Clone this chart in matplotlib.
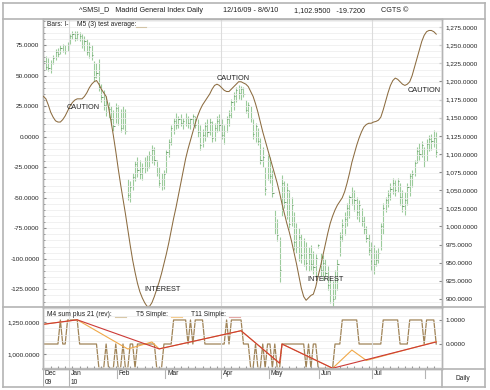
import numpy as np
import pandas as pd
import matplotlib
matplotlib.use("Agg")
import matplotlib.pyplot as plt
from matplotlib.lines import Line2D
from matplotlib.ticker import FuncFormatter, MultipleLocator, FixedLocator

plt.rcParams["font.family"] = ["Liberation Sans", "DejaVu Sans"]

# ---- data -------------------------------------------------------------
holidays = ["2009-12-25", "2010-01-01", "2010-04-02", "2010-04-05"]

bar_high = [
    1238, 1235, 1232, 1230, 1236, 1244, 1246, 1250, 1252, 1250,
    1254, 1266, 1270, 1269, 1270, 1268, 1266, 1262, 1258, 1254,
    1250, 1228, 1226, 1231, 1196, 1188, 1180, 1172, 1166, 1160,
    1170, 1168, 1162, 1166, 1162, 1066, 1062, 1074, 1090, 1096,
    1092, 1088, 1096, 1099, 1104, 1113, 1110, 1092, 1082, 1074,
    1078, 1106, 1120, 1140, 1150, 1156, 1152, 1155, 1150, 1157,
    1152, 1150, 1155, 1152, 1148, 1140, 1134, 1144, 1148, 1150,
    1146, 1142, 1152, 1155, 1148, 1140, 1152, 1160, 1176, 1185,
    1192, 1195, 1193, 1192, 1175, 1172, 1166, 1148, 1142, 1136,
    1122, 1110, 1082, 1100, 1096, 1078, 1023, 1010, 986, 1071,
    1062, 1060, 1050, 1040, 1020, 1005, 998, 989, 984, 978,
    972, 975, 966, 962, 976, 964, 960, 955, 945, 930,
    925, 940, 955, 993, 1010, 1020, 1033, 1044, 1055, 1050,
    1040, 1036, 1025, 1014, 1000, 990, 978, 975, 968, 970,
    1005, 1033, 1041, 1050, 1060, 1067, 1064, 1067, 1060, 1050,
    1047, 1060, 1074, 1078, 1092, 1110, 1115, 1118, 1110, 1120,
    1126, 1127, 1133, 1130,
]
bar_low = [
    1222, 1216, 1214, 1212, 1224, 1230, 1234, 1238, 1240, 1238,
    1242, 1252, 1258, 1256, 1257, 1255, 1246, 1242, 1236, 1232,
    1230, 1200, 1204, 1187, 1172, 1160, 1152, 1150, 1140, 1132,
    1142, 1140, 1130, 1134, 1128, 1036, 1034, 1050, 1062, 1068,
    1066, 1064, 1074, 1076, 1080, 1088, 1085, 1070, 1054, 1050,
    1052, 1074, 1096, 1112, 1128, 1134, 1136, 1138, 1134, 1138,
    1136, 1134, 1140, 1136, 1124, 1106, 1110, 1118, 1124, 1126,
    1116, 1118, 1130, 1132, 1120, 1114, 1130, 1138, 1150, 1160,
    1172, 1176, 1174, 1178, 1156, 1150, 1144, 1120, 1116, 1112,
    1086, 1082, 1044, 1064, 1060, 1040, 990, 980, 923, 1014,
    1026, 1010, 996, 1000, 968, 964, 952, 950, 946, 940,
    938, 940, 934, 930, 970, 932, 926, 928, 912, 895,
    889, 900, 913, 959, 980, 988, 1000, 1012, 1030, 1022,
    1010, 1006, 1000, 990, 978, 960, 940, 934, 946, 950,
    968, 990, 1020, 1027, 1036, 1045, 1042, 1048, 1030, 1020,
    1016, 1030, 1042, 1055, 1070, 1088, 1092, 1096, 1082, 1090,
    1104, 1106, 1110, 1096,
]
bar_close = [
    1228, 1220, 1218, 1226, 1232, 1240, 1238, 1246, 1250, 1242,
    1250, 1262, 1266, 1260, 1266, 1262, 1250, 1256, 1240, 1248,
    1236, 1206, 1212, 1192, 1178, 1168, 1158, 1162, 1148, 1138,
    1164, 1150, 1136, 1158, 1132, 1044, 1054, 1068, 1086, 1078,
    1072, 1080, 1090, 1082, 1098, 1106, 1092, 1074, 1060, 1066,
    1072, 1102, 1116, 1136, 1146, 1140, 1148, 1142, 1146, 1150,
    1142, 1148, 1152, 1140, 1130, 1112, 1126, 1138, 1130, 1144,
    1122, 1136, 1146, 1140, 1126, 1132, 1148, 1154, 1172, 1180,
    1188, 1184, 1190, 1182, 1160, 1168, 1150, 1128, 1138, 1118,
    1092, 1096, 1052, 1090, 1070, 1046, 998, 988, 940, 1060,
    1034, 1050, 1004, 1030, 978, 972, 986, 960, 972, 950,
    962, 948, 944, 956, 974, 940, 950, 936, 920, 905,
    900, 930, 948, 985, 1002, 1010, 1026, 1040, 1048, 1036,
    1020, 1030, 1008, 996, 984, 968, 952, 948, 954, 964,
    1000, 1026, 1036, 1044, 1052, 1060, 1050, 1062, 1040, 1028,
    1036, 1054, 1070, 1072, 1088, 1104, 1100, 1112, 1090, 1114,
    1120, 1118, 1122, 1103,
]
m5_avg = [
    33, 31, 26, 20, 16, 13, 12, 12, 14, 17,
    21, 25, 28, 30, 31, 31, 31, 33, 36, 40,
    43, 45, 46, 43, 39, 36, 33, 24, 13, 1,
    -12, -26, -39, -51, -63, -76, -89, -101, -111, -120,
    -127, -132, -136, -139, -139, -136, -131, -125, -119, -112,
    -104, -96, -87, -77, -67, -58, -48, -38, -28, -18,
    -10, -3, 4, 11, 17, 22, 26, 29, 32, 35,
    39, 42, 43, 42, 40, 38, 37, 37, 39, 41,
    43, 45, 45, 44, 43, 41, 37, 33, 27, 20,
    12, 4, -3, -10, -17, -24, -31, -38, -46, -55,
    -63, -71, -78, -86, -95, -104, -114, -124, -131, -134,
    -132, -130, -129, -123, -114, -106, -97, -88, -79, -71,
    -65, -60, -56, -53, -50, -45, -38, -30, -21, -14,
    -7, -1, 4, 8, 10, 11, 11, 12, 12.5, 13.5,
    16, 22, 29, 36, 42, 46, 48, 47, 45, 43,
    42, 43, 45, 50, 57, 64, 71, 78, 83, 86,
    87, 87, 86, 84,
]
m4_sum = [
    0, 0, 0, 0, 0, 0, 0, 1, 0, 0,
    1, 1, 1, 1, 1, 0, 0, 0, 0, 0,
    0, 0, 0, -1, -1, -1, 0, -1, -1, -1,
    0, -1, -1, 0, -1, -1, 0, 0, -1, 0,
    0, 0, 0, 0, 0, 0, 0, -1, -1, -1,
    0, 0, 0, 0, 1, 1, 1, 1, 1, 1,
    0, 1, 0, 1, 1, 1, 1, 0, 0, 0,
    0, 0, 0, 0, 0, 0, 1, 0, 1, 1,
    1, 1, 1, 0, 0, 0, -1, -1, 0, -1,
    -1, 0, -1, 0, 0, -1, 0, -1, -1, 0,
    0, 0, 0, 0, 0, 0, 0, 0, 0, -1,
    0, -1, 0, 0, -1, -1, -1, -1, -1, -1,
    -1, 0, 0, 0, 1, 1, 1, 1, 1, 1,
    1, 0, 0, 0, 0, 0, 0, 0, 0, 0,
    0, 1, 1, 1, 1, 1, 1, 1, 0, 0,
    0, 0, 1, 1, 1, 1, 1, 1, 0, 1,
    1, 1, 1, 0,
]
# zig-zag pivots: day index and value
t5_day = [0, 14, 35, 45, 48, 82, 98, 99, 120, 128, 134, 163]
t5_val = [1232, 1267, 1039, 1094, 1040, 1182, 928, 1078, 889, 1031, 950, 1097]
t11_day = [0, 14, 48, 82, 98, 99, 120, 163]
t11_val = [1232, 1267, 1040, 1182, 928, 1078, 889, 1094]

notes = [("CAUTION", 9.5, 24), ("CAUTION", 72, 48), ("INTEREST", 42, -125),
         ("INTEREST", 109.5, -117), ("CAUTION", 151, 38)]

# ---- layout helpers ---------------------------------------------------
W, H = 490, 390
GRID = "#ebebeb"
EDGE = "#b4b4b4"
BROWN = "#8c6c40"
TXT = "#222222"


def box(px0, py0, px1, py1):
    return [px0 / W, 1 - py1 / H, (px1 - px0) / W, (py1 - py0) / H]


def ftext(px, py, s, **kw):
    kw.setdefault("fontsize", 5.2)
    kw.setdefault("color", TXT)
    fig.text(px / W, 1 - py / H, s, va="center", **kw)


def fline(px0, py0, px1, py1, **kw):
    kw.setdefault("color", EDGE)
    kw.setdefault("lw", 1.2)
    fig.add_artist(Line2D([px0 / W, px1 / W], [1 - py0 / H, 1 - py1 / H],
                          transform=fig.transFigure, **kw))


def fmt4(v, pos):
    return f"{v:,.4f}"


dates = pd.bdate_range("2009-12-16", "2010-08-06")
dates = dates[~dates.isin(pd.to_datetime(holidays))]
x = np.arange(len(dates))
month_first = [i for i in range(len(dates)) if i == 0 or dates[i].month != dates[i - 1].month]
quarter_lines = [i - 0.5 for i in month_first if dates[i].month in (1, 4, 7)]
XLIM = (-0.2, 165.4)

fig = plt.figure(figsize=(W / 100, H / 100), dpi=100)

# ---- main panel -------------------------------------------------------
ax = fig.add_axes(box(43, 19, 442, 307))
ax2 = ax.twinx()
ax.set_zorder(ax2.get_zorder() + 1)
ax.patch.set_visible(False)

ax2.vlines(x, bar_low, bar_high, color="#9ccb9c", lw=0.8)
ax2.hlines(bar_close, x, x + 0.5, color="#5a8f5a", lw=0.6)
ax2.set_ylim(889, 1286)
ax2.yaxis.set_major_locator(MultipleLocator(25))
ax2.yaxis.set_major_formatter(FuncFormatter(fmt4))

ax.plot(x, m5_avg, color=BROWN, lw=0.75, zorder=3)
for s, xi, yi in notes:
    ax.text(xi, yi, s, fontsize=5.3, color=TXT, va="center", zorder=4)
ax.yaxis.set_major_locator(MultipleLocator(25))
ax.yaxis.set_minor_locator(MultipleLocator(5))
ax.yaxis.set_major_formatter(FuncFormatter(fmt4))
ax.set_ylim(-139.5, 96.4)
for v in np.arange(-135, 96, 5):
    ax.axhline(v, color=GRID, lw=0.5, zorder=0)
for q in quarter_lines:
    ax.axvline(q, color="#dcdcdc", lw=0.8, zorder=0)

# ---- lower panel ------------------------------------------------------
ax3 = fig.add_axes(box(43, 307, 442, 369))
ax4 = ax3.twinx()
ax3.set_zorder(ax4.get_zorder() + 1)
ax3.patch.set_visible(False)

ax4.plot(x, m4_sum, color="#a08458", lw=0.9)
ax4.set_ylim(-1.04, 1.54)
ax4.yaxis.set_major_locator(FixedLocator([0, 1]))
ax4.yaxis.set_major_formatter(FuncFormatter(fmt4))

ax3.plot(t5_day, t5_val, color="#f0a848", lw=0.8)
ax3.plot(t11_day, t11_val, color="#cc3a36", lw=0.8)
ax3.set_ylim(883, 1367)
ax3.yaxis.set_major_locator(FixedLocator([1000, 1250]))
ax3.yaxis.set_major_formatter(FuncFormatter(fmt4))
for v in np.arange(900, 1367, 50):
    ax3.axhline(v, color=GRID, lw=0.5, zorder=0)
for q in quarter_lines:
    ax3.axvline(q, color="#dcdcdc", lw=0.8, zorder=0)
ax3.set_xticks(np.arange(0, 165, 3))

for a in (ax, ax2, ax3, ax4):
    a.set_xlim(*XLIM)
    a.tick_params(axis="y", which="both", direction="in", length=2, labelsize=4.6,
                  pad=2.5, color="#888888", labelcolor=TXT)
    for sp in a.spines.values():
        sp.set_color(EDGE)
        sp.set_linewidth(1.0)
ax.tick_params(axis="y", which="minor", length=1.2)
ax.set_xticks([])
ax2.set_xticks([])
ax3.tick_params(axis="x", direction="in", length=2, color="#999999", labelbottom=False)

# ---- date strip -------------------------------------------------------
ax5 = fig.add_axes(box(43, 369, 442, 387))
ax5.set_xlim(*XLIM)
ax5.set_ylim(0, 2)
ax5.axis("off")
for i in month_first:
    xs = max(i - 0.5, XLIM[0])
    ax5.plot([xs, xs], [1, 2], color=EDGE, lw=0.8)
    if i < len(dates) - 10:  # last (partial) month gets no label
        ax5.text(xs + 0.8, 1.5, dates[i].strftime("%b"), fontsize=4.8, color=TXT, va="center")
    if i == 0 or dates[i].year != dates[i - 1].year:
        ax5.plot([xs, xs], [0, 1], color=EDGE, lw=0.8)
        ax5.text(xs + 0.8, 0.5, dates[i].strftime("%y"), fontsize=4.8, color=TXT, va="center")

# ---- header texts and frame -------------------------------------------
ftext(79, 11, "^SMSI_D   Madrid General Index Daily")
ftext(223, 11, "12/16/09 - 8/6/10")
ftext(294, 11, "1,102.9500   -19.7200")
ftext(381, 11, "CGTS \u00a9")

ftext(47, 25, "Bars: I-", fontsize=4.8)
ftext(77, 25, "M5 (3) test average:", fontsize=4.8)
fline(136, 27, 146, 27, color="#d2c4a6", lw=0.8)

ftext(47, 315, "M4 sum plus 21 (rev):", fontsize=4.8)
fline(115, 317, 126, 317, color="#d8c8a8", lw=0.8)
ftext(136, 315, "T5 Simple:", fontsize=4.8)
fline(171, 317, 182, 317, color="#f6cc8e", lw=0.8)
ftext(191, 315, "T11 Simple:", fontsize=4.8)
fline(229, 317, 240, 317, color="#e6a8a6", lw=0.8)

ftext(463, 379, "Daily", fontsize=4.8, ha="center")

fline(3, 3, 485, 3)
fline(3, 19, 485, 19)
fline(3, 3, 3, 387)
fline(485, 3, 485, 387)
fline(3, 387, 485, 387)
fline(3, 307, 485, 307)
fline(43, 369, 485, 369)
fline(442, 369, 442, 387)

fig.savefig("out.png", dpi=100)
